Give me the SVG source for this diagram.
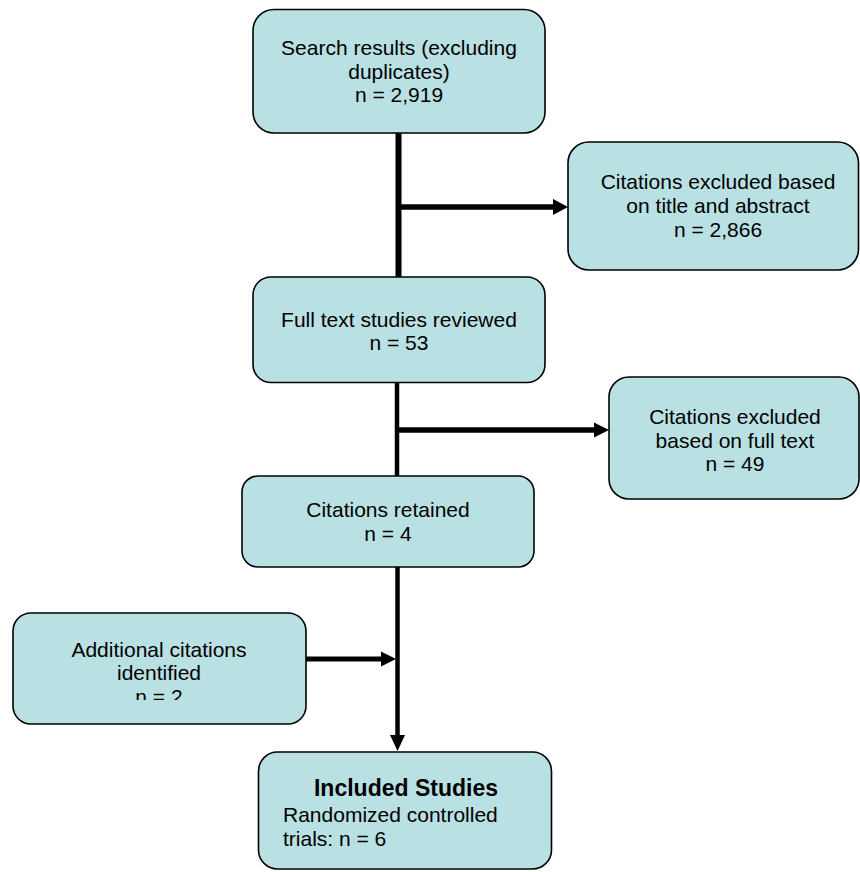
<svg xmlns="http://www.w3.org/2000/svg" width="860" height="872" viewBox="0 0 860 872">
<style>
.box{fill:#b9e0e3;stroke:#000;stroke-width:1.6}
.t{font-family:"Liberation Sans",Arial,sans-serif;font-size:21px;fill:#000;text-anchor:middle}
.tl{font-family:"Liberation Sans",Arial,sans-serif;font-size:21px;fill:#000}
.b{font-family:"Liberation Sans",Arial,sans-serif;font-size:23px;font-weight:bold;fill:#000;text-anchor:middle}
.c{fill:none;stroke:#000}
</style>
<defs>
<clipPath id="clipAdd"><rect x="0" y="600" width="320" height="100"/></clipPath>
</defs>
<rect width="860" height="872" fill="#fff"/>
<g id="connectors">
<path class="c" d="M398.5 133 V277" stroke-width="6"/>
<path class="c" d="M398.5 207 H555" stroke-width="5.5"/>
<polygon points="553,199 568,207 553,215"/>
<path class="c" d="M397 382 V476" stroke-width="4.5"/>
<path class="c" d="M397 430 H596" stroke-width="5.5"/>
<polygon points="594,422.5 609,430 594,437.5"/>
<path class="c" d="M397.5 567 V738" stroke-width="4.5"/>
<polygon points="390,735 405,735 397.5,751"/>
<path class="c" d="M306 659 H383" stroke-width="5"/>
<polygon points="381,651.5 396,659 381,666.5"/>
</g>
<g id="search">
<rect class="box" x="253" y="9.5" width="292" height="123.5" rx="21"/>
<text class="t" x="399" y="55">Search results (excluding</text>
<text class="t" x="399" y="78.5">duplicates)</text>
<text class="t" x="399" y="102">n = 2,919</text>
</g>
<g id="excluded-title">
<rect class="box" x="568" y="142" width="290.5" height="128" rx="21"/>
<text class="t" x="718" y="188.5">Citations excluded based</text>
<text class="t" x="718" y="212.5">on title and abstract</text>
<text class="t" x="718" y="236.5">n = 2,866</text>
</g>
<g id="fulltext">
<rect class="box" x="253" y="277" width="292" height="105.5" rx="18"/>
<text class="t" x="399" y="326.5">Full text studies reviewed</text>
<text class="t" x="399" y="350">n = 53</text>
</g>
<g id="excluded-full">
<rect class="box" x="609" y="377" width="250" height="122" rx="20"/>
<text class="t" x="735" y="423.5">Citations excluded</text>
<text class="t" x="735" y="447.5">based on full text</text>
<text class="t" x="735" y="471">n = 49</text>
</g>
<g id="retained">
<rect class="box" x="242" y="476" width="292" height="91" rx="16"/>
<text class="t" x="388" y="516.5">Citations retained</text>
<text class="t" x="388" y="541">n = 4</text>
</g>
<g id="additional">
<rect class="box" x="13" y="613" width="293" height="111" rx="18"/>
<text class="t" x="159" y="657">Additional citations</text>
<text class="t" x="159" y="680">identified</text>
<text class="t" x="159" y="703.5" clip-path="url(#clipAdd)">n = 2</text>
</g>
<g id="included">
<rect class="box" x="258.5" y="752" width="293" height="117" rx="19"/>
<text class="b" x="406" y="795.5">Included Studies</text>
<text class="tl" x="283" y="821.5">Randomized controlled</text>
<text class="tl" x="283" y="846">trials: n = 6</text>
</g>
</svg>
